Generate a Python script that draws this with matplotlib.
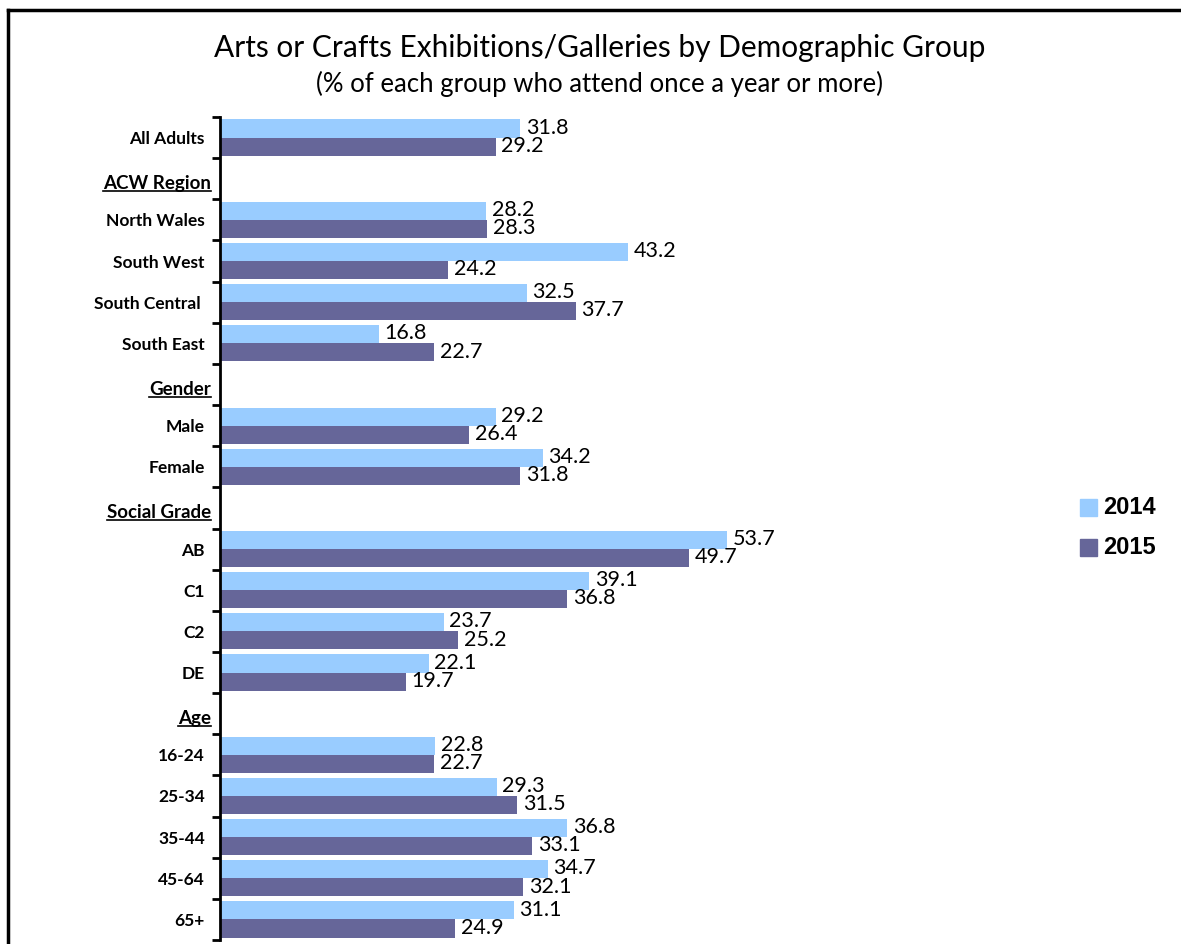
import matplotlib.pyplot as plt
from matplotlib.lines import Line2D
from matplotlib.patches import Rectangle
import matplotlib.transforms as mtransforms
import numpy as np

plt.rcParams['font.family'] = ['Lato', 'DejaVu Sans']

labels = ['All Adults', 'ACW Region', 'North Wales', 'South West', 'South Central ',
          'South East', 'Gender', 'Male', 'Female', 'Social Grade', 'AB', 'C1', 'C2',
          'DE', 'Age', '16-24', '25-34', '35-44', '45-64', '65+']
headers = ['ACW Region', 'Gender', 'Social Grade', 'Age']
v2014 = [31.8, None, 28.2, 43.2, 32.5, 16.8, None, 29.2, 34.2, None, 53.7, 39.1, 23.7,
         22.1, None, 22.8, 29.3, 36.8, 34.7, 31.1]
v2015 = [29.2, None, 28.3, 24.2, 37.7, 22.7, None, 26.4, 31.8, None, 49.7, 36.8, 25.2,
         19.7, None, 22.7, 31.5, 33.1, 32.1, 24.9]

c14 = '#99ccff'
c15 = '#666699'

fig = plt.figure(figsize=(11.81, 9.44), dpi=100)
ax = fig.add_axes([220/1181, 4/944, 860/1181, 823/944])

n = len(labels)
y = np.arange(n)
h = 0.44
for i in range(n):
    if v2014[i] is None:
        continue
    ax.barh(y[i] - h/2, v2014[i], height=h, color=c14)
    ax.barh(y[i] + h/2, v2015[i], height=h, color=c15)
    ax.text(v2014[i] + 0.6, y[i] - h/2 - 0.02, f'{v2014[i]:.1f}', va='center', ha='left', fontsize=15.5)
    ax.text(v2015[i] + 0.6, y[i] + h/2 - 0.02, f'{v2015[i]:.1f}', va='center', ha='left', fontsize=15.5)

ax.set_ylim(n - 0.5, -0.5)
ax.set_xlim(0, 860/9.44)
ax.set_yticks(np.arange(n + 1) - 0.5)
ax.set_yticklabels([])
ax.set_yticks(y, minor=True)
ax.set_yticklabels(['' if l in headers else l for l in labels], minor=True,
                   fontsize=12.5, fontweight='bold')
ax.tick_params(axis='y', which='minor', length=0, pad=11)
ax.tick_params(axis='y', which='major', length=6, width=2, direction='out')
ax.set_xticks([])
for s in ['top', 'right', 'bottom']:
    ax.spines[s].set_visible(False)
ax.spines['left'].set_linewidth(2)

# group headers, underlined, a little lower and closer to the axis
tr = ax.get_yaxis_transform() + mtransforms.ScaledTranslation(-9/100, -5/100, fig.dpi_scale_trans)
head_txt = []
for i, l in enumerate(labels):
    if l in headers:
        head_txt.append(ax.text(0, y[i], l, transform=tr, ha='right', va='center',
                                fontsize=13.5, fontweight='bold'))

fig.text(600/1181, 1 - 48/944, 'Arts or Crafts Exhibitions/Galleries by Demographic Group',
         ha='center', va='center', fontsize=21.5)
fig.text(600/1181, 1 - 84/944, '(% of each group who attend once a year or more)',
         ha='center', va='center', fontsize=18.5)

# legend
for k, (lab, col) in enumerate([('2014', c14), ('2015', c15)]):
    yy = 1 - (508 + k*40)/944
    fig.add_artist(Rectangle((1080/1181, yy - 8/944), 17/1181, 17/944, color=col,
                             transform=fig.transFigure))
    fig.text(1103/1181, yy, lab, ha='left', va='center', fontsize=17, fontweight='bold',
             family='Liberation Sans')

# frame
fig.add_artist(Line2D([8/1181, 1180/1181], [1 - 10/944, 1 - 10/944], color='black', lw=2.5,
                      transform=fig.transFigure))
fig.add_artist(Line2D([8/1181, 8/1181], [0, 1 - 10/944], color='black', lw=2.5,
                      transform=fig.transFigure))

fig.canvas.draw()
r = fig.canvas.get_renderer()
inv = fig.transFigure.inverted()
for t in head_txt:
    bb = t.get_window_extent(r)
    (x0, y0), (x1, _) = inv.transform([(bb.x0, bb.y0 + 1), (bb.x1, bb.y0)])
    fig.add_artist(Line2D([x0, x1], [y0, y0], color='black', lw=1.2,
                          transform=fig.transFigure))

fig.savefig('out.png', dpi=100)
